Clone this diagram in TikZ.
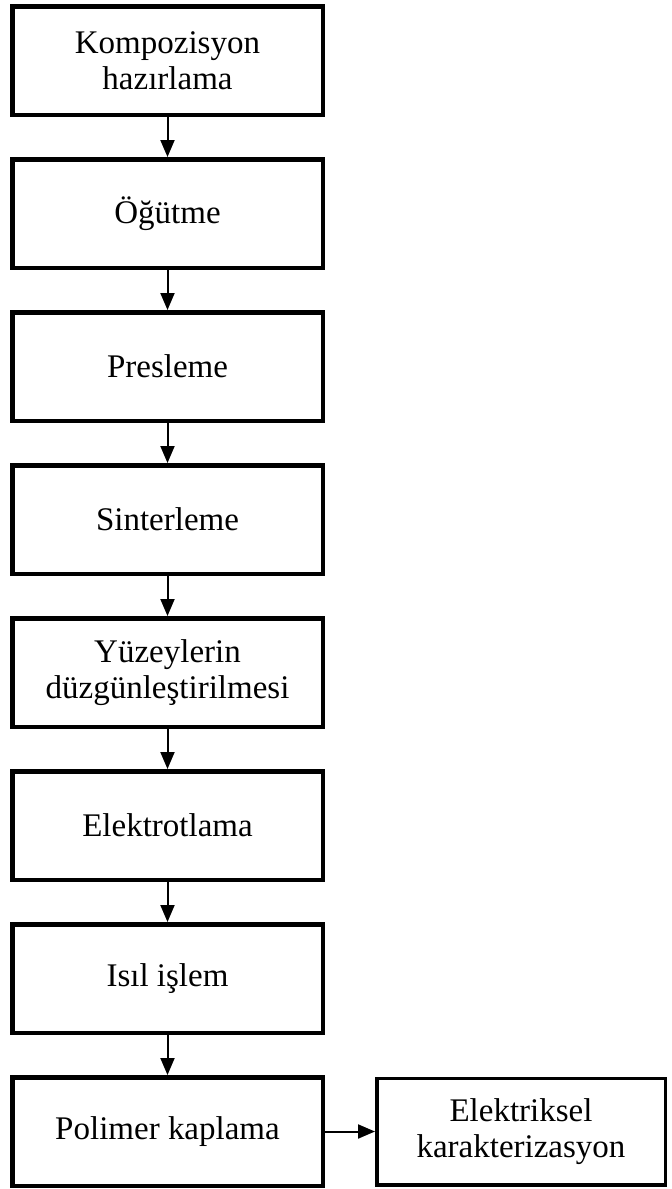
\documentclass[tikz,border=0pt]{standalone}
\usepackage{fontspec}
\setmainfont{Liberation Serif}
\usetikzlibrary{arrows.meta,positioning}
\tikzset{
  proc/box/.style={draw, line width=4.5pt, minimum width=310.5pt, minimum height=108.5pt, align=center, inner sep=2pt, font=\fontsize{33}{36}\selectfont},
  proc/side/.style={proc/box, line width=3.5pt, minimum width=288.5pt, minimum height=106.5pt},
  arr/.style={-{Triangle[length=17pt,width=14pt]}, line width=2pt}
}

\begin{document}
\begin{tikzpicture}[x=1pt, y=1pt, node distance=40pt and 50pt]
  \useasboundingbox (0,0) rectangle (672,-1189);
  \node[proc/box] (komp) at (167.5,-60.5) {Kompozisyon\\hazırlama};
  \node[proc/box, below=of komp] (ogut) {Öğütme};
  \node[proc/box, below=of ogut] (pres) {Presleme};
  \node[proc/box, below=of pres] (sint) {Sinterleme};
  \node[proc/box, below=of sint] (yuz) {Yüzeylerin\\düzgünleştirilmesi};
  \node[proc/box, below=of yuz] (elek) {Elektrotlama};
  \node[proc/box, below=of elek] (isil) {Isıl işlem};
  \node[proc/box, below=of isil] (polim) {Polimer kaplama};
  \node[proc/side, right=of polim] (karak) {Elektriksel\\karakterizasyon};
  \draw[arr] (komp)--(ogut);
  \draw[arr] (ogut)--(pres);
  \draw[arr] (pres)--(sint);
  \draw[arr] (sint)--(yuz);
  \draw[arr] (yuz)--(elek);
  \draw[arr] (elek)--(isil);
  \draw[arr] (isil)--(polim);
  \draw[arr] (polim)--(karak);
\end{tikzpicture}
\end{document}
